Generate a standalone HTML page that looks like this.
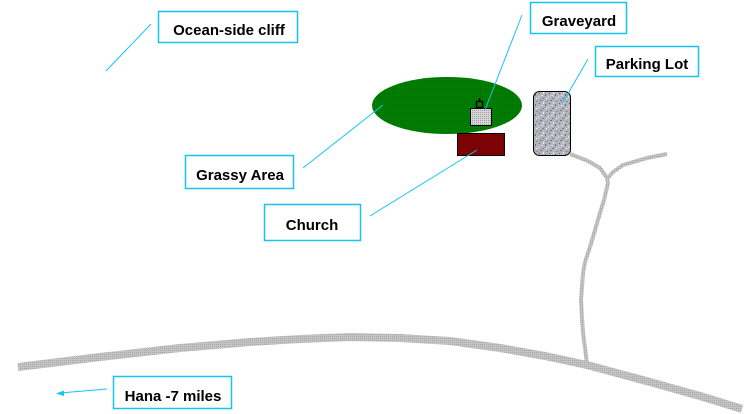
<!DOCTYPE html>
<html>
<head>
<meta charset="utf-8">
<style>
  html,body{margin:0;padding:0;background:#fff;}
  svg{display:block;}
  text{font-family:"Liberation Sans",sans-serif;font-weight:bold;font-size:15px;fill:#000;}
</style>
</head>
<body>
<svg width="754" height="414" viewBox="0 0 754 414" xmlns="http://www.w3.org/2000/svg">
  <defs>
    <pattern id="grass" width="2" height="2" patternUnits="userSpaceOnUse">
      <rect width="2" height="2" fill="#008000"/>
      <rect x="0" y="0" width="1" height="1" fill="#006800"/>
    </pattern>
    <pattern id="brick" width="2" height="2" patternUnits="userSpaceOnUse">
      <rect width="2" height="2" fill="#850000"/>
      <rect x="1" y="1" width="1" height="1" fill="#600000"/>
    </pattern>
    <pattern id="road" width="2" height="2" patternUnits="userSpaceOnUse">
      <rect width="2" height="2" fill="#c4c4c4"/>
      <rect x="0" y="0" width="1" height="1" fill="#a8a8a8"/>
    </pattern>
    <pattern id="grave" width="2" height="2" patternUnits="userSpaceOnUse">
      <rect width="2" height="2" fill="#d6d6d6"/>
      <rect x="0" y="0" width="1" height="1" fill="#a0a0a0"/>
    </pattern>
    <pattern id="granite" width="10" height="10" patternUnits="userSpaceOnUse">
      <rect width="10" height="10" fill="#b4b4bc"/>
      <rect x="0" y="0" width="2" height="1" fill="#6e6e78"/>
      <rect x="3" y="2" width="1" height="2" fill="#e8e8f0"/>
      <rect x="6" y="1" width="2" height="1" fill="#8a8a94"/>
      <rect x="1" y="5" width="2" height="1" fill="#e0e0e8"/>
      <rect x="5" y="4" width="1" height="2" fill="#6a6a74"/>
      <rect x="8" y="6" width="1" height="2" fill="#d8d8e4"/>
      <rect x="2" y="8" width="2" height="1" fill="#7c7c88"/>
      <rect x="6" y="8" width="1" height="1" fill="#ffffff"/>
      <rect x="9" y="3" width="1" height="1" fill="#5c5c66"/>
      <rect x="4" y="7" width="1" height="1" fill="#9a9aa8"/>
    </pattern>
  </defs>

  <!-- main road -->
  <polyline points="18,367 100,357 180,348 250,342 300,339 350,337 400,338 450,341 500,348 545,356 587,365 650,382 700,396 742,409"
    fill="none" stroke="url(#road)" stroke-width="8" stroke-linejoin="round"/>

  <!-- side roads -->
  <polyline points="570,154 588,161 600,168 607,178 608,183 604,200 600,213 595,230 590,247 585,262 583,273 581,300 582,318 583,333 585,348 587,364"
    fill="none" stroke="url(#road)" stroke-width="4" stroke-linejoin="round"/>
  <polyline points="667,154 647,158 623,165 613,172 608,178"
    fill="none" stroke="url(#road)" stroke-width="4" stroke-linejoin="round"/>

  <!-- grassy area -->
  <ellipse cx="447" cy="105.5" rx="75" ry="28.5" fill="url(#grass)"/>

  <!-- church -->
  <rect x="457.5" y="133.5" width="47" height="22" fill="url(#brick)" stroke="#000" stroke-width="1"/>

  <!-- graveyard -->
  <rect x="470.5" y="108.5" width="21" height="17" fill="url(#grave)" stroke="#000" stroke-width="1"/>
  <rect x="476.5" y="101.5" width="6" height="6" fill="#008000" stroke="#000" stroke-width="1.5"/>
  <line x1="479.5" y1="98" x2="479.5" y2="101" stroke="#000" stroke-width="1.5"/>

  <!-- parking lot -->
  <rect x="533.5" y="91.5" width="37" height="64" rx="6" ry="6" fill="url(#granite)" stroke="#000" stroke-width="1"/>

  <!-- leader lines -->
  <g stroke="#16c4f0" stroke-width="1" fill="none">
    <line x1="151" y1="24" x2="106" y2="71"/>
    <line x1="522" y1="15" x2="485" y2="110"/>
    <line x1="588" y1="59" x2="562" y2="104"/>
    <line x1="303" y1="168" x2="383" y2="105"/>
    <line x1="370" y1="216" x2="477" y2="150"/>
    <line x1="107" y1="389" x2="60" y2="393"/>
  </g>
  <polygon points="56,393.5 64,390.5 64,396" fill="#16c4f0"/>

  <!-- label boxes -->
  <g fill="#fff" stroke="#16c4f0" stroke-width="1.5">
    <rect x="158.5" y="11.5" width="139" height="31"/>
    <rect x="530.5" y="2.5" width="96" height="31"/>
    <rect x="595.5" y="46.5" width="103" height="30"/>
    <rect x="185.5" y="155.5" width="108" height="33"/>
    <rect x="264.5" y="204.5" width="96" height="36"/>
    <rect x="113.5" y="376.5" width="118" height="32"/>
  </g>

  <g text-anchor="middle">
    <text x="229" y="35">Ocean-side cliff</text>
    <text x="579" y="26">Graveyard</text>
    <text x="647" y="69">Parking Lot</text>
    <text x="240" y="180">Grassy Area</text>
    <text x="312" y="230">Church</text>
    <text x="173" y="401">Hana -7 miles</text>
  </g>
</svg>
</body>
</html>
